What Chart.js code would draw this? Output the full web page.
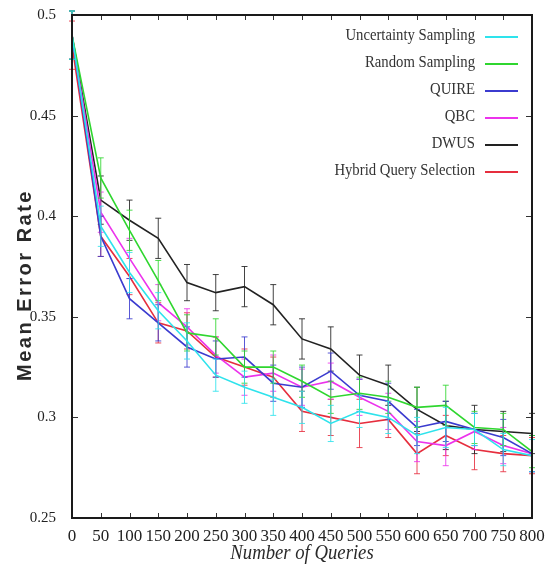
<!DOCTYPE html>
<html>
<head>
<meta charset="utf-8">
<script src="https://cdn.jsdelivr.net/npm/chart.js@4/dist/chart.umd.min.js"></script>
<style>
  html, body { margin: 0; padding: 0; background: #ffffff; }
  #wrap { width: 551px; height: 572px; position: relative; }
</style>
</head>
<body>
<div id="wrap"><canvas id="c" width="551" height="572"></canvas></div>
<script>
// ---- data ----
const queries = [0,50,100,150,200,250,300,350,400,450,500,550,600,650,700,750,800];
const seriesNames = ["Uncertainty Sampling","Random Sampling","QUIRE","QBC","DWUS","Hybrid Query Selection"];
const uncertainty = [0.49,0.395,0.372,0.353,0.338,0.321,0.315,0.310,0.305,0.297,0.303,0.300,0.291,0.295,0.294,0.284,0.281];
const randomSampling = [0.49,0.419,0.393,0.368,0.342,0.340,0.325,0.325,0.318,0.310,0.312,0.310,0.305,0.306,0.295,0.294,0.283];
const quire = [0.49,0.390,0.359,0.347,0.335,0.329,0.330,0.317,0.315,0.323,0.311,0.308,0.295,0.298,0.294,0.290,0.282];
const qbc = [0.49,0.402,0.379,0.357,0.345,0.331,0.320,0.322,0.315,0.318,0.310,0.303,0.288,0.286,0.293,0.286,0.282];
const dwus = [0.49,0.408,0.398,0.389,0.367,0.362,0.365,0.356,0.339,0.334,0.321,0.316,0.304,0.296,0.294,0.293,0.292];
const hybrid = [0.485,0.390,0.370,0.347,0.343,0.330,0.325,0.320,0.303,0.300,0.297,0.299,0.282,0.291,0.284,0.282,0.281];
// error bar half-heights
const uncertaintyErr = [0.012,0.010,0.010,0.009,0.009,0.008,0.008,0.009,0.008,0.009,0.008,0.008,0.009,0.010,0.008,0.008,0.008];
const randomErr = [0.012,0.010,0.010,0.010,0.009,0.009,0.008,0.008,0.008,0.008,0.008,0.008,0.010,0.010,0.008,0.008,0.008];
const quireErr = [0.012,0.010,0.010,0.009,0.010,0.009,0.010,0.009,0.010,0.009,0.008,0.009,0.009,0.010,0.008,0.009,0.009];
const qbcErr = [0.012,0.010,0.010,0.009,0.009,0.009,0.009,0.009,0.009,0.009,0.009,0.009,0.010,0.010,0.009,0.009,0.009];
const dwusErr = [0.012,0.012,0.010,0.010,0.009,0.009,0.010,0.010,0.010,0.011,0.010,0.010,0.011,0.012,0.012,0.010,0.010];
const hybridErr = [0.012,0.010,0.009,0.010,0.009,0.010,0.009,0.010,0.010,0.009,0.012,0.009,0.010,0.010,0.010,0.009,0.009];
const yTicks = [0.25,0.3,0.35,0.4,0.45,0.5];
const xTicks = queries;
const colors = ["#2ee3ec","#2fd62f","#3b3bcf","#ec33ec","#222222","#e62e3e"];

const values = [uncertainty, randomSampling, quire, qbc, dwus, hybrid];
const errors = [uncertaintyErr, randomErr, quireErr, qbcErr, dwusErr, hybridErr];

const datasets = values.map((v, i) => ({
  label: seriesNames[i],
  data: queries.map((q, j) => ({x: q, y: v[j]})),
  errs: errors[i],
  borderColor: colors[i],
  backgroundColor: colors[i],
  borderWidth: 1.6,
  pointRadius: 0,
  tension: 0,
  fill: false
}));

const errorBars = {
  id: 'errorBars',
  beforeDatasetDraw(chart, args) {
    const ds = chart.data.datasets[args.index];
    const xs = chart.scales.x, ys = chart.scales.y;
    const ctx = chart.ctx;
    ctx.save();
    ctx.strokeStyle = ds.borderColor;
    ctx.globalAlpha = 0.85;
    ctx.lineWidth = 1;
    ds.data.forEach((p, j) => {
      const e = ds.errs[j];
      const px = xs.getPixelForValue(p.x);
      const top = ys.getPixelForValue(p.y + e);
      const bot = ys.getPixelForValue(p.y - e);
      ctx.beginPath();
      ctx.moveTo(px, top); ctx.lineTo(px, bot);
      ctx.moveTo(px - 3, top); ctx.lineTo(px + 3, top);
      ctx.moveTo(px - 3, bot); ctx.lineTo(px + 3, bot);
      ctx.stroke();
    });
    ctx.restore();
  }
};

const frame = {
  id: 'frame',
  afterDraw(chart) {
    const ctx = chart.ctx;
    const a = chart.chartArea;
    const xs = chart.scales.x, ys = chart.scales.y;
    ctx.save();
    // inward ticks
    ctx.strokeStyle = '#333';
    ctx.lineWidth = 1;
    ctx.beginPath();
    xTicks.forEach(t => {
      const px = Math.round(xs.getPixelForValue(t)) + 0.5;
      ctx.moveTo(px, a.bottom); ctx.lineTo(px, a.bottom - 5);
      ctx.moveTo(px, a.top); ctx.lineTo(px, a.top + 5);
    });
    yTicks.forEach(t => {
      const py = Math.round(ys.getPixelForValue(t)) + 0.5;
      ctx.moveTo(a.left, py); ctx.lineTo(a.left + 6, py);
      ctx.moveTo(a.right, py); ctx.lineTo(a.right - 6, py);
    });
    ctx.stroke();
    // border
    ctx.strokeStyle = '#1a1a1a';
    ctx.lineWidth = 2;
    ctx.strokeRect(a.left, a.top, a.right - a.left, a.bottom - a.top);

    // legend
    const legendY = [36, 63, 90, 117, 144, 171];
    ctx.font = '16px "Liberation Serif", "Times New Roman", serif';
    ctx.textBaseline = 'middle';
    ctx.fillStyle = '#333';
    seriesNames.forEach((name, i) => {
      ctx.save();
      ctx.translate(475, legendY[i]);
      ctx.scale(0.92, 1);
      ctx.textAlign = 'right';
      ctx.fillText(name, 0, 0);
      ctx.restore();
      ctx.strokeStyle = colors[i];
      ctx.lineWidth = 1.8;
      ctx.beginPath();
      ctx.moveTo(485, legendY[i] + 1);
      ctx.lineTo(518, legendY[i] + 1);
      ctx.stroke();
    });

    // y title
    ctx.save();
    ctx.translate(25, 285);
    ctx.rotate(-Math.PI / 2);
    ctx.font = 'bold 20px "Liberation Sans", Arial, sans-serif';
    ctx.letterSpacing = '2.5px';
    ctx.fillStyle = '#2a2a2a';
    ctx.textAlign = 'center';
    ctx.textBaseline = 'middle';
    ctx.fillText('Mean Error Rate', 0, 0);
    ctx.restore();

    // x title
    ctx.save();
    ctx.translate((a.left + a.right) / 2, 553);
    ctx.scale(0.85, 1);
    ctx.font = 'italic 22px "Liberation Serif", "Times New Roman", serif';
    ctx.fillStyle = '#2a2a2a';
    ctx.textAlign = 'center';
    ctx.textBaseline = 'middle';
    ctx.fillText('Number of Queries', 0, 0);
    ctx.restore();
    ctx.restore();
  }
};

new Chart(document.getElementById('c'), {
  type: 'line',
  data: { datasets },
  options: {
    responsive: false,
    animation: false,
    layout: { padding: { left: 0, right: 19, top: 15, bottom: 0 } },
    plugins: { legend: { display: false }, tooltip: { enabled: false } },
    scales: {
      x: {
        type: 'linear',
        min: 0, max: 800,
        afterBuildTicks(scale) { scale.ticks = xTicks.map(v => ({ value: v })); },
        afterFit(scale) { scale.height = 54; scale.paddingLeft = 0; scale.paddingRight = 0; },
        grid: { display: false, drawTicks: false },
        border: { display: false },
        ticks: {
          autoSkip: false, maxRotation: 0, minRotation: 0, padding: 8,
          color: '#222',
          font: { family: '"Liberation Serif", "Times New Roman", serif', size: 17 },
          callback: v => String(v)
        }
      },
      y: {
        type: 'linear',
        min: 0.25, max: 0.5,
        afterBuildTicks(scale) { scale.ticks = yTicks.map(v => ({ value: v })); },
        afterFit(scale) { scale.width = 72; scale.paddingTop = 0; scale.paddingBottom = 0; },
        grid: { display: false, drawTicks: false },
        border: { display: false },
        ticks: {
          padding: 16,
          color: '#222',
          font: { family: '"Liberation Serif", "Times New Roman", serif', size: 15 },
          callback: v => String(Math.round(v * 100) / 100)
        }
      }
    }
  },
  plugins: [errorBars, frame]
});
</script>
</body>
</html>
